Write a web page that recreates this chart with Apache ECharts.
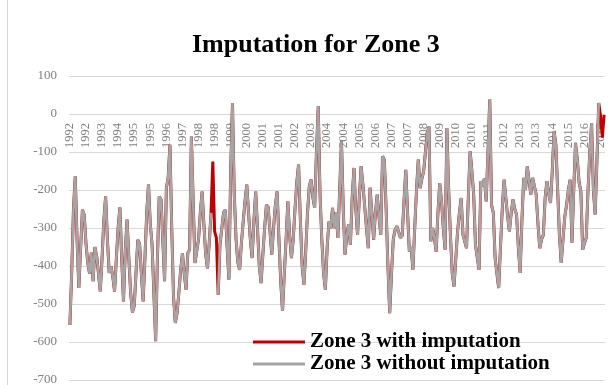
<!DOCTYPE html>
<html><head><meta charset="utf-8">
<script src="https://cdn.jsdelivr.net/npm/echarts@6/dist/echarts.min.js"></script>
<style>html,body{margin:0;padding:0;background:#fff}#c{width:613px;height:385px}</style>
</head><body><div id="c"></div>
<script>
// Monthly values, one row per year (Jan..Dec)
const years = [1992,1993,1994,1995,1996,1997,1998,1999,2000,2001,2002,2003,2004,2005,2006,2007,2008,2009,2010,2011,2012,2013,2014,2015,2016];
const zone3WithImputation = [
  -555,-420,-250,-164,-330,-458,-462,-252,-265,-340,-392,-420,
  -365,-440,-350,-375,-420,-467,-380,-280,-217,-330,-418,-401,
  -427,-467,-380,-300,-246,-380,-493,-360,-278,-380,-470,-522,
  -505,-420,-331,-341,-420,-493,-380,-260,-186,-290,-344,-470,
  -598,-380,-217,-225,-330,-440,-195,-168,-81,-300,-480,-550,
  -523,-470,-410,-366,-420,-462,-366,-357,-59,-230,-392,-397,
  -330,-260,-204,-290,-370,-406,-340,-260,-125,-309,-326,-476,
  -344,-340,-260,-252,-350,-436,-150,29,-212,-330,-390,-410,
  -340,-283,-230,-186,-260,-330,-379,-280,-204,-300,-400,-445,
  -370,-300,-239,-245,-310,-370,-300,-240,-204,-330,-440,-518,
  -423,-330,-230,-320,-379,-330,-250,-180,-133,-280,-400,-449,
  -360,-260,-190,-173,-220,-247,-100,20,-212,-330,-420,-462,
  -350,-283,-300,-247,-300,-260,-326,-200,-72,-250,-370,-320,
  -290,-344,-220,-142,-250,-318,-220,-138,-186,-190,-300,-353,
  -194,-260,-331,-260,-212,-270,-318,-111,-120,-250,-400,-524,
  -420,-330,-305,-295,-300,-326,-320,-230,-147,-260,-362,-350,
  -410,-300,-200,-120,-195,-170,-151,-100,-50,-33,-335,-300,
  -326,-362,-260,-182,-230,-300,-357,-37,-200,-320,-420,-454,
  -380,-309,-260,-221,-318,-335,-353,-220,-98,-150,-212,-344,
  -340,-410,-177,-190,-170,-230,-100,38,-239,-260,-379,-420,
  -458,-350,-250,-173,-220,-270,-309,-260,-225,-250,-265,-350,
  -418,-280,-168,-200,-138,-142,-212,-168,-190,-212,-290,-353,
  -330,-318,-220,-177,-210,-234,-150,-46,-80,-200,-320,-392,
  -330,-270,-239,-200,-173,-339,-200,-76,-120,-180,-204,-357,
  -340,-326,-200,-100,-24,-200,-265,-120,29,-5,-62,-2
];
// positions (month index) of imputed values (missing in the original series)
const imputedMonths = [80,81,82,297,298,299];
const yTicks = [-700,100,100]; // min, max, interval

const categories = [];
years.forEach(y => { for (let m = 0; m < 12; m++) categories.push(String(y)); });
const zone3WithoutImputation = zone3WithImputation.map((v, i) => imputedMonths.includes(i) ? null : v);

const serif = '"Liberation Serif","Times New Roman",serif';
const chart = echarts.init(document.getElementById('c'), null, {renderer: 'canvas'});
chart.setOption({
  animation: false,
  backgroundColor: '#fff',
  title: {
    text: 'Imputation for Zone 3', left: 192, top: 32, padding: 0,
    textStyle: {fontFamily: serif, fontWeight: 'bold', fontSize: 26, color: '#000'}
  },
  graphic: [{type: 'line', shape: {x1: 7.5, y1: 0, x2: 7.5, y2: 385}, style: {stroke: '#d9d9d9', lineWidth: 1}}],
  legend: {
    orient: 'vertical', left: 248, top: 326, itemWidth: 52, itemHeight: 3, itemGap: 0,
    icon: 'rect',
    textStyle: {fontFamily: serif, fontWeight: 'bold', fontSize: 21, lineHeight: 22, color: '#000'},
    data: ['Zone 3 with imputation', 'Zone 3 without imputation']
  },
  grid: {left: 69, right: 8, top: 76, bottom: 5, outerBoundsMode: 'none', containLabel: false},
  xAxis: {
    type: 'category', data: categories, boundaryGap: true,
    axisLine: {show: false, onZero: false},
    axisTick: {show: false},
    axisLabel: {interval: 8, rotate: 90, margin: -257, fontFamily: serif, fontSize: 12.5, color: '#808080'},
    splitLine: {show: false}
  },
  yAxis: {
    type: 'value', min: yTicks[0], max: yTicks[1], interval: yTicks[2],
    axisLine: {show: false}, axisTick: {show: false},
    axisLabel: {margin: 12, fontFamily: serif, fontSize: 13, color: '#808080'},
    splitLine: {lineStyle: {color: '#d9d9d9', width: 1}}
  },
  series: [
    {name: 'Zone 3 with imputation', type: 'line', data: zone3WithImputation, symbol: 'none',
     lineStyle: {color: '#c00000', width: 3}, itemStyle: {color: '#c00000'}, z: 2},
    {name: 'Zone 3 without imputation', type: 'line', data: zone3WithoutImputation, symbol: 'none',
     lineStyle: {color: '#a5a5a5', width: 2.6}, itemStyle: {color: '#a5a5a5'}, z: 3}
  ]
});
</script></body></html>
